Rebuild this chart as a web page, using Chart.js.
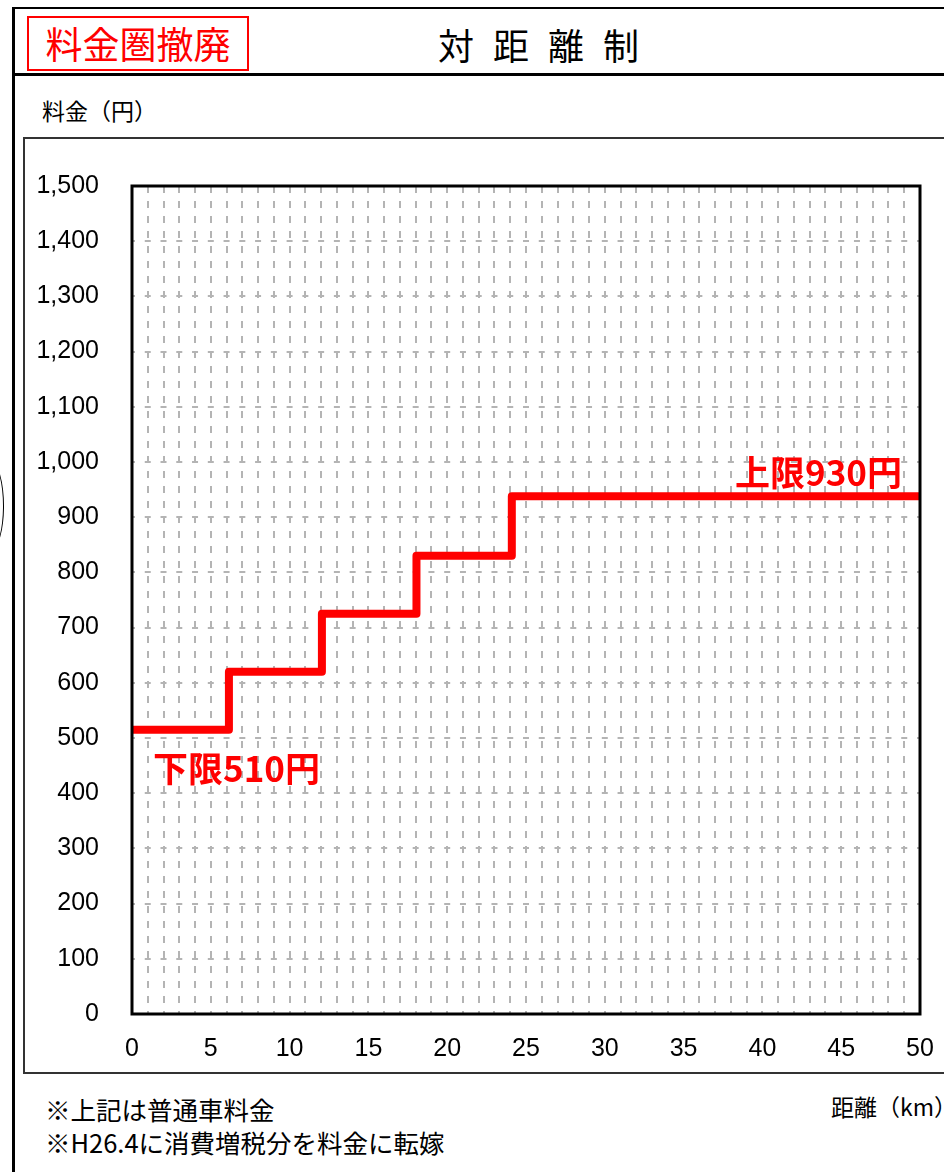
<!DOCTYPE html>
<html lang="ja">
<head>
<meta charset="utf-8">
<title>対距離制</title>
<script src="https://cdn.jsdelivr.net/npm/chart.js@4.4.1/dist/chart.umd.min.js"></script>
<style>
  html, body { margin: 0; padding: 0; background: #fff; }
  body { width: 944px; height: 1172px; position: relative; overflow: hidden;
         font-family: "Noto Sans CJK JP", "Noto Sans", sans-serif; color: #000; }
  .abs { position: absolute; white-space: nowrap; }
  #outer-top { left: 12px; top: 7px; width: 940px; height: 0; border-top: 2px solid #000; }
  #outer-left { left: 12px; top: 7px; width: 0; height: 1180px; border-left: 3px solid #000; }
  #head-line { left: 12px; top: 73px; width: 940px; height: 0; border-top: 3px solid #000; }
  #frame { left: 23px; top: 137px; width: 940px; height: 933px; border: 2px solid #333; }
  #bracket { left: -22px; top: 462px; width: 24px; height: 86px; border: 1.5px solid #000; border-radius: 50%; }
  #badge { left: 27px; top: 16px; width: 218px; height: 51px; border: 2px solid #ff0000;
           color: #ff0000; font-size: 37px; line-height: 51px; text-align: center; }
  #title { left: 438px; top: 18px; font-size: 36px; line-height: 52px; letter-spacing: 19px; }
  #ylabel { left: 42px; top: 92px; font-size: 23px; line-height: 36px; }
  #xlabel { left: 831px; top: 1088px; font-size: 23px; line-height: 36px; }
  .note { left: 45px; font-size: 25.5px; line-height: 32px; }
  .tag { color: #ff0000; font-weight: bold; font-size: 35px; line-height: 40px; }
  #chart-wrap { left: 24px; top: 138px; width: 920px; height: 934px; }
</style>
</head>
<body>
<div class="abs" id="outer-top"></div>
<div class="abs" id="outer-left"></div>
<div class="abs" id="head-line"></div>
<div class="abs" id="frame"></div>
<div class="abs" id="bracket"></div>
<div class="abs" id="badge">料金圏撤廃</div>
<div class="abs" id="title">対距離制</div>
<div class="abs" id="ylabel">料金（円）</div>
<div class="abs" id="chart-wrap"><canvas id="chart" width="920" height="934"></canvas></div>
<div class="abs tag" style="left:735px; top:451px;">上限930円</div>
<div class="abs tag" style="left:153px; top:747px;">下限510円</div>
<div class="abs" id="xlabel">距離（km）</div>
<div class="abs note" style="top:1093px;">※上記は普通車料金</div>
<div class="abs note" style="top:1126px;">※H26.4に消費増税分を料金に転嫁</div>

<script>
// 距離(km) の区切りと料金(円)
var distKm = [0, 6.15, 12.05, 18.05, 24.1, 50];
var fareYen = [515, 620, 725, 830, 938, 938];

var xMin = 0, xMax = 50, xLabelStep = 5;
var yMin = 0, yMax = 1500, yStep = 100;

var points = distKm.map(function (d, i) { return { x: d, y: fareYen[i] }; });

// 枠線（プロット領域）
var plotBorder = {
    id: 'plotBorder',
    afterDraw: function (chart) {
        var a = chart.chartArea, ctx = chart.ctx;
        ctx.save();
        ctx.strokeStyle = '#000';
        ctx.lineWidth = 3;
        ctx.strokeRect(a.left, a.top, a.right - a.left, a.bottom - a.top);
        ctx.restore();
    }
};

var tickFont = { family: '"Liberation Sans", Arial, sans-serif', size: 25 };

new Chart(document.getElementById('chart'), {
    type: 'line',
    data: {
        datasets: [{
            data: points,
            stepped: 'before',
            borderColor: '#ff0000',
            borderWidth: 8,
            borderJoinStyle: 'round',
            pointRadius: 0,
            fill: false
        }]
    },
    options: {
        responsive: false,
        devicePixelRatio: 1,
        animation: false,
        layout: { padding: { top: 48, right: 24, left: 0, bottom: 0 } },
        plugins: { legend: { display: false }, tooltip: { enabled: false } },
        scales: {
            x: {
                type: 'linear', min: xMin, max: xMax,
                afterFit: function (s) { s.height = 58; s.paddingLeft = 0; s.paddingRight = 0; },
                grid: { color: '#b4b4b4', lineWidth: 2, drawTicks: false },
                border: { display: false, dash: [7, 8] },
                ticks: {
                    stepSize: 1, autoSkip: false, maxRotation: 0, padding: 20,
                    color: '#000', font: tickFont,
                    callback: function (v) { return v % xLabelStep === 0 ? String(v) : ''; }
                }
            },
            y: {
                min: yMin, max: yMax,
                afterFit: function (s) { s.width = 108; },
                grid: { color: '#b4b4b4', lineWidth: 2, drawTicks: false },
                border: { display: false, dash: [6, 9.76], dashOffset: 3 },
                ticks: {
                    stepSize: yStep, padding: 33, color: '#000', font: tickFont,
                    callback: function (v) { return v.toLocaleString('en-US'); }
                }
            }
        }
    },
    plugins: [plotBorder]
});
</script>
</body>
</html>
